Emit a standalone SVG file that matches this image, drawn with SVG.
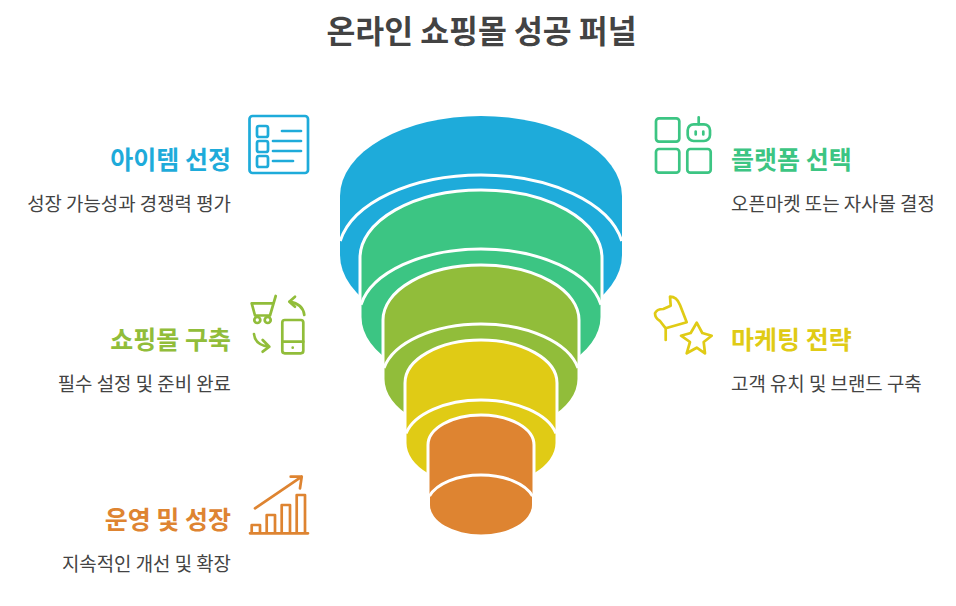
<svg xmlns="http://www.w3.org/2000/svg" width="956" height="606" viewBox="0 0 956 606">
<style>
text{font-family:"Noto Sans CJK KR","Noto Sans",sans-serif}
.t{font-size:31.400px;font-weight:700;fill:#434343;text-anchor:middle}
.l{font-size:25px;font-weight:700}
.d{font-size:18.900px;fill:#434343}
.e{text-anchor:end}
.w{fill:none;stroke:#fff;stroke-width:3}
.i{fill:none;stroke-width:2.700;stroke-linecap:round;stroke-linejoin:round}
.blue{fill:#1eabda}.green{fill:#3cc583}.olive{fill:#91bd3a}.yellow{fill:#e0cb15}.orange{fill:#de8431}
.sb{stroke:#1eabda}.sg{stroke:#3cc583}.so{stroke:#91bd3a}.sy{stroke:#e0cb15}.sr{stroke:#de8431}
</style>
<rect width="956" height="606" fill="#fff"/>
<text class="t" x="481.500" y="43">온라인 쇼핑몰 성공 퍼널</text>

<g id="funnel">
<g id="tier-1">
<path class="blue" d="M340,196A141,80 0 0 1 622,196V255A141,80 0 0 1 340,255Z"/>
<path class="w" d="M340.200,241A143,80 0 0 1 621.800,241"/>
</g>
<g id="tier-2">
<path class="green" d="M361,258A120,68 0 0 1 601,258V304H600.500V317A119.500,68 0 0 1 361.500,317V304H361Z"/>
<path class="w" d="M360,304V258A121,68 0 0 1 602,258V304"/>
<path class="w" d="M361,304.700A122,68 0 0 1 601,304.700"/>
</g>
<g id="tier-3">
<path class="olive" d="M384,320A97,55 0 0 1 578,320V368H577.500V379A96.500,55 0 0 1 384.500,379V368H384Z"/>
<path class="w" d="M383,368V320A98,55 0 0 1 579,320V368"/>
<path class="w" d="M384,368A99,55 0 0 1 578,368"/>
</g>
<g id="tier-4">
<path class="yellow" d="M406,383A75,43 0 0 1 556,383V433H555.500V443A74.500,43 0 0 1 406.500,443V433H406Z"/>
<path class="w" d="M405,433V383A76,43 0 0 1 557,383V433"/>
<path class="w" d="M406,433.300A77,43 0 0 1 556,433.300"/>
</g>
<g id="tier-5">
<path class="orange" d="M429,445A52,30 0 0 1 533,445V496H532V505A51,29.500 0 0 1 430,505V496H429Z"/>
<path class="w" d="M428,496V445A53,30 0 0 1 534,445V496"/>
<path class="w" d="M429.500,496A54,30 0 0 1 532.500,496"/>
</g>
</g>

<g id="node-item">
<text class="l e blue" x="231" y="168.500">아이템 선정</text>
<text class="d e" x="231" y="211">성장 가능성과 경쟁력 평가</text>
<g class="i sb">
<rect x="249.500" y="116" width="58.500" height="57" rx="3"/>
<rect x="257" y="126" width="11" height="11" rx="2"/><rect x="257" y="141" width="11" height="11" rx="2"/><rect x="257" y="156" width="11" height="11" rx="2"/>
<path d="M282,131H301M273,141H301M273,151H301M273,161H293"/>
</g>
</g>

<g id="node-mall">
<text class="l e olive" x="231" y="348.500">쇼핑몰 구축</text>
<text class="d e" x="231" y="391">필수 설정 및 준비 완료</text>
<g class="i so">
<path d="M275.700,296L270,315.500H255L251.700,303.300H273.700"/>
<circle cx="257.300" cy="320" r="3"/><circle cx="267.700" cy="320" r="3"/>
<path d="M304.300,315Q303,304 289.300,301.700M295,296.700L289.300,301.700L295,306.700"/>
<path d="M254,334Q255,345 269.300,346.700M262.700,340L269.300,346.700L262.700,351.700"/>
<rect x="282.300" y="320" width="21" height="33.300" rx="2.500"/>
<path d="M282.300,341.700H303.300M292.700,347.700h.01"/>
</g>
</g>

<g id="node-ops">
<text class="l e orange" x="231" y="528.500">운영 및 성장</text>
<text class="d e" x="231" y="571">지속적인 개선 및 확장</text>
<g class="i sr">
<path d="M250,533.300H308M251.700,533.300V525H260V533.300M266.700,533.300V515H275V533.300M281.700,533.300V505H290V533.300M296.700,533.300V495H305V533.300"/>
<path d="M255,508.300L301.700,476.700M290.700,476.700H301.700L300,488.300"/>
</g>
</g>

<g id="node-platform">
<text class="l green" x="731" y="168.500">플랫폼 선택</text>
<text class="d" x="731" y="211">오픈마켓 또는 자사몰 결정</text>
<g class="i sg">
<rect x="656" y="118.300" width="23.300" height="23.300" rx="3"/>
<rect x="656" y="149" width="23.300" height="23.700" rx="3"/>
<rect x="687.300" y="149" width="23.400" height="23.700" rx="3"/>
<rect x="687.700" y="124.300" width="22.300" height="16.700" rx="6"/>
<path d="M698.700,117.300V124.300M695.700,131.500V134.500M703.300,131.500V134.500"/>
</g>
</g>

<g id="node-marketing">
<text class="l yellow" x="731" y="348.500">마케팅 전략</text>
<text class="d" x="731" y="391">고객 유치 및 브랜드 구축</text>
<g class="i sy">
<path d="M670,296.700Q676.700,296.700 680,305L686.700,322.300L665.700,328.300L660,321Q655,318.300 655,313.300Q656.700,309 663.300,309L670.700,305.700ZM665.700,328.300V340"/>
<path d="M696.700,322.700L702.300,333L711.700,335.700L703.700,342L705,353.300L696.700,347.700L686.700,353.300L690,342L681,335.700L690.700,333Z"/>
</g>
</g>
</svg>
